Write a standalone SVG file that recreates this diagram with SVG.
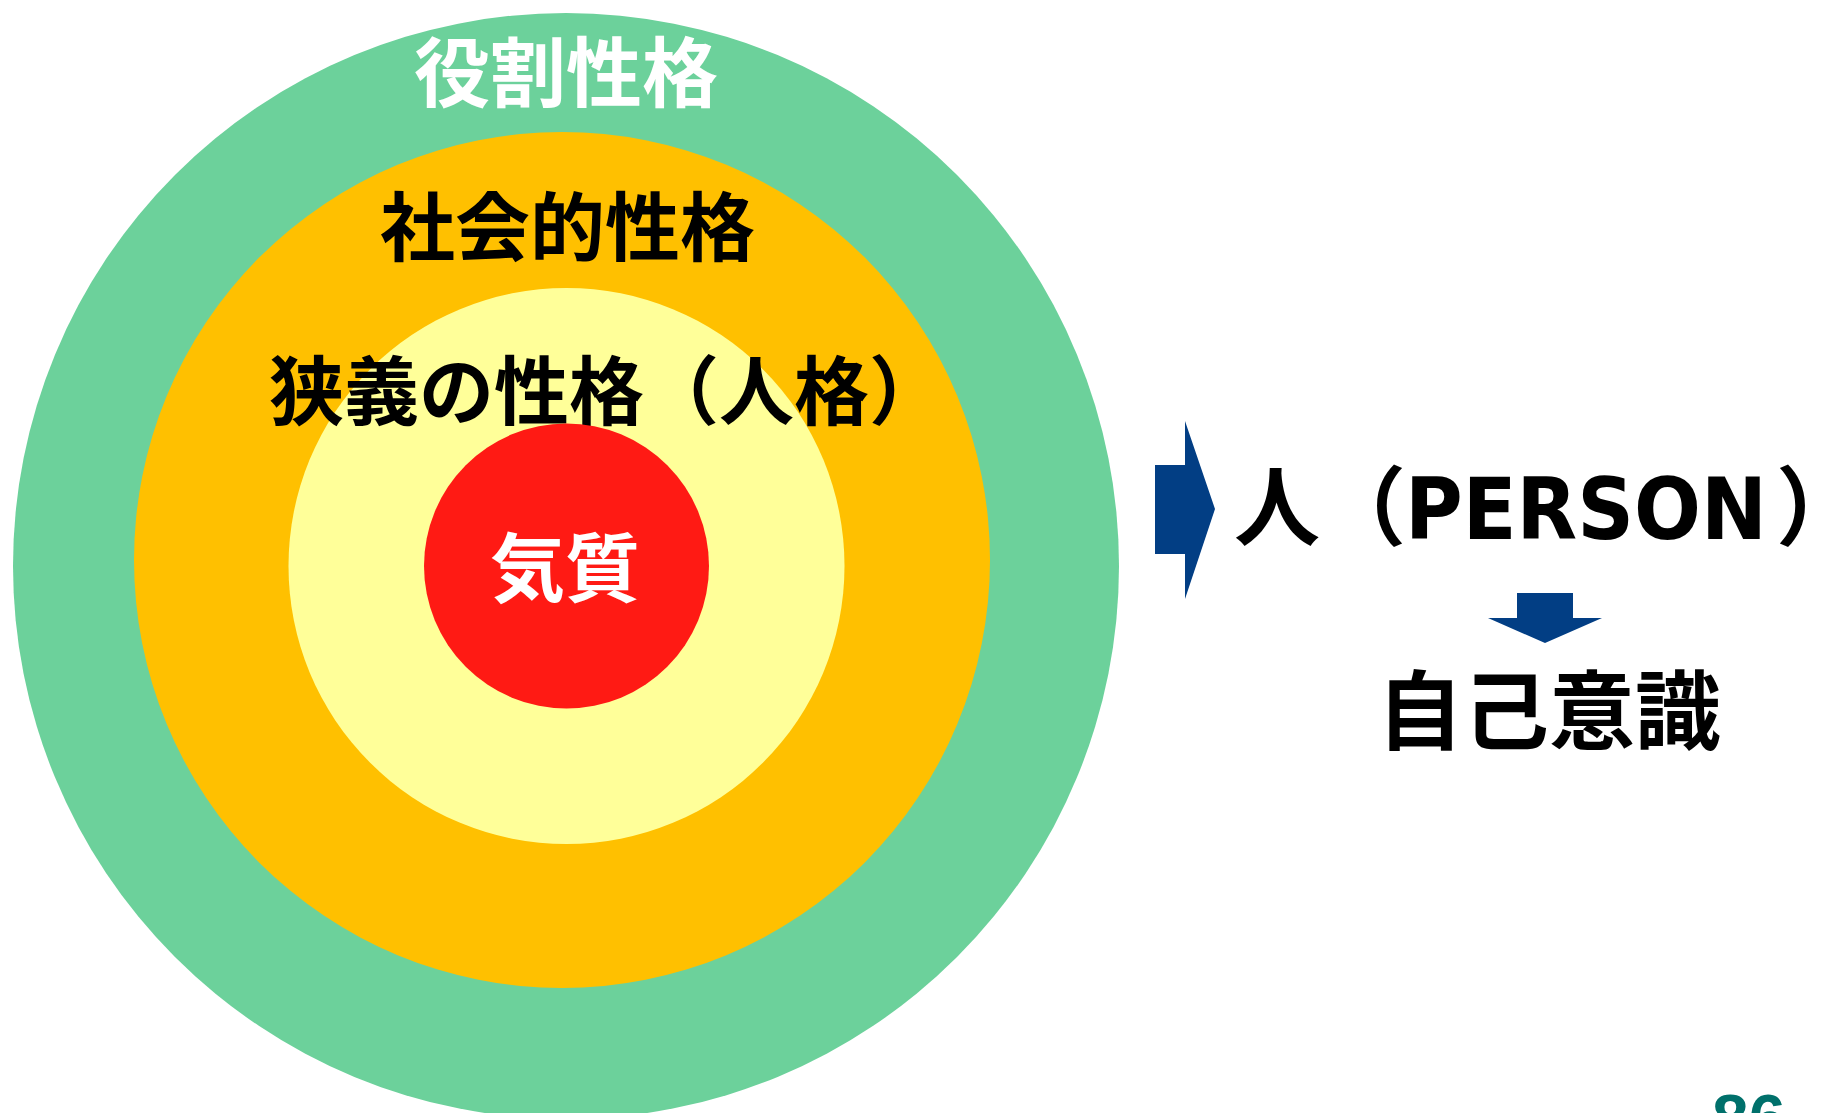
<svg xmlns="http://www.w3.org/2000/svg" width="1822" height="1113" viewBox="0 0 1822 1113">
<style>
.cjk{font-family:"Noto Sans CJK JP","Noto Sans CJK SC",sans-serif;font-weight:bold;}
.lat{font-family:"DejaVu Sans","Noto Sans",sans-serif;font-weight:bold;}
.blk{fill:#000000;}
.wht{fill:#ffffff;}
.arrow{fill:#023E84;}
</style>
<rect width="1822" height="1113" fill="#ffffff"/>
<g id="role">
<circle cx="566" cy="566" r="553" fill="#6CD19B"/>
<text class="cjk wht" x="414" y="101" font-size="76">役割性格</text>
</g>
<g id="social">
<circle cx="562" cy="560" r="428" fill="#FFC000"/>
<text class="cjk blk" x="380" y="255" font-size="75">社会的性格</text>
</g>
<g id="narrow">
<circle cx="566.5" cy="566" r="278" fill="#FFFF99"/>
<text class="cjk blk" x="269" y="419" font-size="75">狭義の性格（人格）</text>
</g>
<g id="temperament">
<circle cx="566.5" cy="566" r="142.5" fill="#FF1A14"/>
<text class="cjk wht" x="490" y="596" font-size="75">気質</text>
</g>
<g id="connectors">
<polygon class="arrow" points="1155,465 1185,465 1185,421 1215,509 1185,599 1185,554 1155,554"/>
<polygon class="arrow" points="1517,593 1573,593 1573,618 1602,618 1545,643 1488,618 1517,618"/>
</g>
<g id="person">
<text y="539" font-size="86"><tspan class="cjk blk" x="1234">人</tspan><tspan class="cjk blk" x="1320">（</tspan><tspan class="lat blk" x="1405" textLength="362" lengthAdjust="spacingAndGlyphs">PERSON</tspan><tspan class="cjk blk" x="1776">）</tspan></text>
</g>
<g id="selfawareness">
<text class="cjk blk" x="1377" y="743" font-size="86">自己意識</text>
</g>
<g id="pagenum">
<text x="1712" y="1141" font-size="66" font-family="Liberation Sans, Arial, sans-serif" font-weight="bold" fill="#00706B">86</text>
</g>
</svg>
